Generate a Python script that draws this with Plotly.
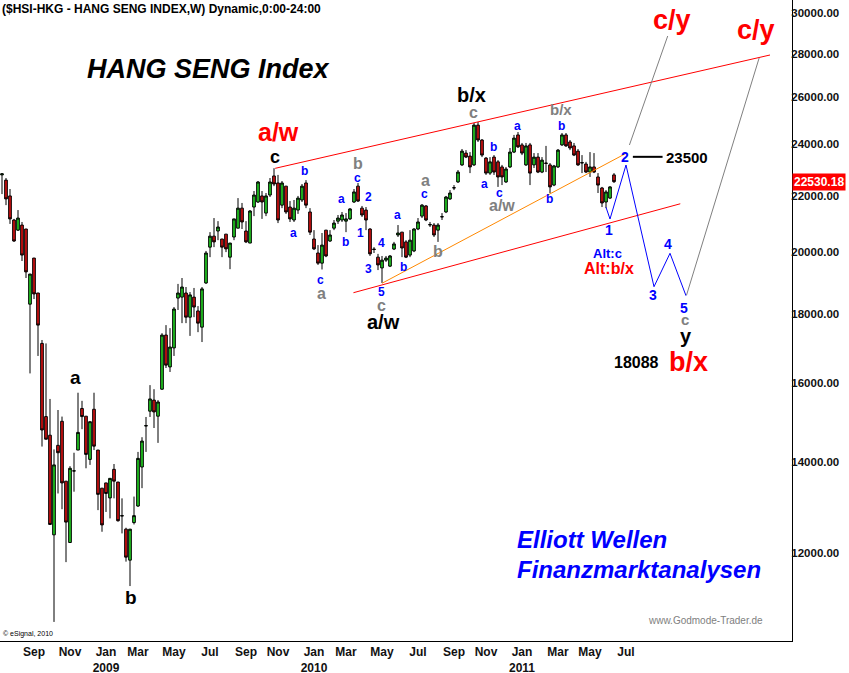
import math
import pandas as pd
import plotly.graph_objects as go

# ---------------- data (weekly candles, Hang Seng Index) ----------------
first_week = "2008-07-28"
opens = [22790, 22590, 21990, 21110, 20750, 20930, 20790, 18300, 19790, 18650,
         17120, 15120, 14650, 12370, 14400, 15000, 13550, 12210, 13785, 14285,
         15330, 15130, 14060, 15310, 14285, 13390, 13510, 13170, 13825, 13530,
         12770, 12490, 11850, 12630, 12990, 13880, 14880, 15260, 15550, 15130,
         15840, 17365, 16450, 16990, 18490, 18520, 18650, 17900, 18520, 18090,
         17600, 18970, 20160, 20540, 20720, 20440, 20610, 19820, 20510, 20820,
         21540, 20720, 20300, 21580, 21765, 21990, 21360, 22025, 22750, 22480,
         21650, 22360, 21580, 21110, 21470, 21840, 22480, 21400, 20440, 19960,
         19620, 20750, 20370, 20820, 21070, 21110, 21070, 21150, 21765, 22360,
         21540, 21470, 20790, 20095, 19820, 19460, 19720, 19520, 20095, 20580,
         20680, 20340, 19890, 20030, 20790, 21250, 21620, 20930, 20930, 20750,
         21220, 21400, 21880, 22290, 22520, 23180, 23650, 23530, 23180, 24800,
         24180, 23450, 22860, 23490, 23300, 23100, 22520, 23100, 23690, 24390,
         23980, 23180, 23980, 23180, 23490, 22900, 23255, 23180, 22400, 23100,
         23980, 24390, 24100, 23940, 23730, 23255, 23215, 22900, 23100, 22710,
         22290, 21765, 21910, 22790]
highs = [22860, 22670, 22250, 21150, 21470, 21040, 20790, 19260, 19790, 18650,
         17220, 17120, 15580, 14300, 15290, 15120, 13550, 13900, 14220, 15745,
         15530, 15130, 14990, 15745, 14285, 13390, 13510, 13615, 13950, 13530,
         13160, 12520, 12490, 13200, 14240, 14600, 15110, 15950, 15840, 15550,
         17420, 17660, 17570, 18210, 18940, 19130, 18840, 18680, 18810, 18240,
         18840, 20030, 20680, 21180, 21070, 20440, 20610, 20300, 21150, 21910,
         21730, 21070, 21470, 22175, 22555, 22175, 22100, 22670, 23050, 22790,
         22555, 22360, 21800, 21840, 21990, 22440, 22590, 21540, 20750, 20230,
         20650, 20750, 20750, 21110, 21290, 21400, 21360, 21540, 22250, 22480,
         21620, 21580, 20820, 20160, 19930, 19860, 19860, 19890, 20340, 20930,
         20680, 20400, 20750, 20820, 21180, 21690, 21650, 21040, 21000, 21000,
         21360, 21990, 22210, 22400, 22980, 23815, 23770, 23690, 24890, 24930,
         24220, 23490, 23490, 23570, 23370, 23180, 23100, 23855, 24390, 24510,
         24060, 24060, 24060, 23650, 23650, 23490, 23940, 23255, 23180, 23815,
         24470, 24470, 24180, 24060, 23815, 23570, 23300, 23690, 23650, 22860,
         22330, 22210, 22360, 22860]
lows = [22060, 21650, 20970, 20340, 20720, 19690, 19130, 16270, 18460, 16760,
        14370, 14550, 12590, 10670, 13270, 12920, 11810, 12210, 13310, 14285,
        14800, 13850, 13930, 14285, 12900, 12435, 12860, 12720, 13160, 12650,
        12400, 11820, 11340, 12590, 12970, 13390, 14240, 15110, 14830, 14460,
        15820, 16420, 16310, 16760, 18120, 17720, 17720, 17340, 17900, 17450,
        17160, 18940, 19820, 20160, 20400, 19820, 19990, 19420, 20400, 20820,
        20790, 20300, 20300, 21250, 21730, 21150, 21250, 21950, 22360, 21000,
        21540, 21330, 21040, 21040, 21330, 21765, 21540, 20580, 20060, 19560,
        19410, 19820, 20340, 20750, 20970, 21040, 20680, 21110, 21730, 21765,
        21220, 20750, 19860, 19960, 19390, 18970, 19660, 19490, 20060, 20510,
        19820, 19790, 19820, 19990, 20750, 21180, 21070, 20860, 20510, 20340,
        21110, 21360, 21840, 22210, 22480, 23140, 23450, 22860, 23140, 24100,
        23490, 22790, 22790, 22790, 22330, 22400, 22480, 23060, 23650, 23855,
        23570, 23140, 22400, 23060, 22860, 22860, 22900, 22100, 22360, 23060,
        23940, 23900, 23770, 23530, 23140, 22860, 22860, 22710, 22860, 22100,
        21580, 21540, 21880, 22480]
closes = [22830, 21880, 21150, 20370, 21180, 19890, 19330, 19260, 18620, 17660,
          14780, 14550, 12590, 13930, 14220, 13510, 12640, 13850, 13790, 14720,
          15120, 14180, 14990, 14380, 13250, 12580, 13270, 13615, 13550, 12670,
          12780, 11910, 12490, 12780, 14085, 14505, 14890, 15580, 15240, 15500,
          17365, 16500, 17015, 18150, 18650, 18840, 17900, 18590, 18210, 17720,
          18780, 19960, 20540, 20340, 20860, 20160, 20100, 20300, 21150, 21540,
          21040, 20340, 21435, 22025, 22517, 21765, 21990, 22517, 22440, 21110,
          22480, 21400, 21150, 21540, 21910, 22360, 21650, 20680, 20100, 19620,
          20230, 19860, 20580, 21000, 21180, 21290, 21150, 21510, 22140, 21800,
          21290, 21110, 19930, 20080, 19560, 19720, 19790, 19860, 20270, 20650,
          20130, 19820, 20400, 20790, 21040, 21650, 21110, 20950, 20580, 20930,
          21230, 21950, 22100, 22300, 22900, 23730, 23490, 23100, 24800, 24180,
          23570, 22860, 23300, 22900, 22710, 22710, 23020, 23690, 24260, 23900,
          23650, 23940, 22860, 23490, 22900, 23370, 23240, 22330, 23140, 23770,
          24390, 23940, 23855, 23570, 23180, 23270, 22900, 23100, 22900, 22400,
          21730, 22140, 22330, 22530.18]
last_price = 22530.18

# Elliott-wave drawing lines (date, value)
upper_channel_dates = ["2009-11-18", "2012-04-02"]
upper_channel_values = [23046, 27935]
lower_channel_dates = ["2010-04-04", "2011-10-28"]
lower_channel_values = [18659, 21700]
orange_line_dates = ["2010-05-24", "2011-07-26"]
orange_line_values = [18960, 23650]
wave_dates = ["2011-06-20", "2011-06-27", "2011-07-25", "2011-09-12", "2011-10-10", "2011-11-07"]
wave_values = [21570, 21146, 23176, 18850, 19950, 18564]
gray1_dates = ["2011-07-31", "2011-10-06"]
gray1_values = [23977, 28851]
gray2_dates = ["2011-11-08", "2012-03-14"]
gray2_values = [18586, 27793]
level_dates = ["2011-08-06", "2011-09-27"]
level_values = [23500, 23500]

# axis ticks
y_ticks = [12000, 14000, 16000, 18000, 20000, 22000, 24000, 26000, 28000, 30000]
tick_months = ["2008-09-01", "2008-11-01", "2009-01-01", "2009-03-01", "2009-05-01", "2009-07-01",
               "2009-09-01", "2009-11-01", "2010-01-01", "2010-03-01", "2010-05-01", "2010-07-01",
               "2010-09-01", "2010-11-01", "2011-01-01", "2011-03-01", "2011-05-01", "2011-07-01"]
tick_text = ["Sep", "Nov", "Jan<br>2009", "Mar", "May", "Jul",
             "Sep", "Nov", "Jan<br>2010", "Mar", "May", "Jul",
             "Sep", "Nov", "Jan<br>2011", "Mar", "May", "Jul"]

# ---------------- figure ----------------
FONT = "Liberation Sans, Arial, sans-serif"
W, H = 849, 673
ML, MR, MT, MB = 0, 57, 0, 32
PW, PH = W - ML - MR, H - MT - MB

dates = pd.date_range(first_week, periods=len(opens), freq="7D")
tickvals = [dates[dates >= pd.Timestamp(m)][0] for m in tick_months]

fig = go.Figure()
fig.add_trace(go.Candlestick(
    x=dates, open=opens, high=highs, low=lows, close=closes,
    increasing=dict(line=dict(color="black", width=1), fillcolor="#22cc22"),
    decreasing=dict(line=dict(color="black", width=1), fillcolor="#d01010"),
    whiskerwidth=0, hoverinfo="skip"))


def line(xs, ys, color, width=1):
    fig.add_trace(go.Scatter(x=xs, y=ys, mode="lines", hoverinfo="skip",
                             line=dict(color=color, width=width)))


line(upper_channel_dates, upper_channel_values, "#ff0000")
line(lower_channel_dates, lower_channel_values, "#ff0000")
line(orange_line_dates, orange_line_values, "#ff8800")
line(gray1_dates, gray1_values, "#808080")
line(gray2_dates, gray2_values, "#808080")
line(wave_dates, wave_values, "#0000ff")
line(level_dates, level_values, "#000000", 2)


def label(text, px, py, color, size, bold=True, italic=False, xanchor="center"):
    t = text
    if bold:
        t = "<b>" + t + "</b>"
    if italic:
        t = "<i>" + t + "</i>"
    fig.add_annotation(x=px / PW, y=1 - py / PH, xref="paper", yref="paper",
                       text=t, showarrow=False, xanchor=xanchor, yanchor="middle",
                       font=dict(family=FONT, size=size, color=color))


BLUE, GRAY, RED, BLACK = "#0000ff", "#808080", "#ff0000", "#000000"
blue_small = [("b", 304, 171), ("a", 293, 233), ("c", 320, 280), ("c", 357, 178), ("a", 341, 199),
              ("b", 345, 242), ("2", 368, 197), ("1", 360, 233), ("4", 381, 243), ("3", 368, 269),
              ("5", 381, 292), ("a", 397, 215), ("b", 404, 267), ("c", 424, 194), ("a", 517, 126),
              ("b", 561, 126), ("b", 493, 147), ("a", 484, 184), ("c", 500, 193), ("b", 549, 199)]
for t, px, py in blue_small:
    label(t, px, py, BLUE, 12)
gray_lab = [("a", 321, 293, 16), ("b", 358, 163, 16), ("c", 381, 305, 16), ("a", 425, 181, 16),
            ("b", 438, 252, 16), ("c", 473, 112, 16), ("b/x", 561, 110, 15), ("a/w", 502, 206, 16),
            ("c", 685, 319, 15)]
for t, px, py, s in gray_lab:
    label(t, px, py, GRAY, s)
black_lab = [("c", 275, 157, 18), ("b/x", 472, 95, 20), ("a/w", 383, 322, 20), ("y", 686, 336, 20),
             ("a", 75, 377, 19), ("b", 131, 597, 19), ("23500", 687, 158, 15), ("18088", 636, 362, 16)]
for t, px, py, s in black_lab:
    label(t, px, py, BLACK, s)
red_lab = [("a/w", 278, 132, 25), ("c/y", 672, 20, 27), ("c/y", 756, 30, 27), ("b/x", 688, 362, 27),
           ("Alt:b/x", 609, 268, 16)]
for t, px, py, s in red_lab:
    label(t, px, py, RED, s)
for t, px, py in [("1", 609, 230), ("2", 625, 157), ("3", 653, 295), ("4", 668, 244), ("5", 684, 308)]:
    label(t, px, py, BLUE, 14)
label("Alt:c", 607, 253, BLUE, 13)

label("($HSI-HKG - HANG SENG INDEX,W) Dynamic,0:00-24:00", 0, 9, BLACK, 12, xanchor="left")
label("HANG SENG Index", 208, 69, BLACK, 27, italic=True)
label("Elliott Wellen", 515, 539, BLUE, 24, italic=True, xanchor="left")
label("Finanzmarktanalysen", 515, 569, BLUE, 24, italic=True, xanchor="left")
label("www.Godmode-Trader.de", 705, 620, GRAY, 10, bold=False)
label("© eSignal, 2010", 1, 634, BLACK, 7, bold=False, xanchor="left")

# last price box on the right axis
fig.add_annotation(x=1.0, y=math.log10(last_price), xref="paper", yref="y",
                   text="<b>%.2f</b>" % last_price, showarrow=False, xanchor="left",
                   yanchor="middle", bgcolor="#ff0000", borderpad=1,
                   font=dict(family=FONT, size=12, color="white"))

y_top = 30669
y_bottom = 10330
fig.update_layout(
    width=W, height=H, margin=dict(l=ML, r=MR, t=MT, b=MB, autoexpand=False),
    paper_bgcolor="white", plot_bgcolor="white", showlegend=False, hovermode=False,
    boxgap=0.18, boxgroupgap=0.18,
    xaxis=dict(type="date", range=["2008-07-24 12:00", "2012-05-10 12:00"],
               rangeslider=dict(visible=False), showgrid=False, zeroline=False,
               showline=True, linecolor="black", linewidth=1, ticks="", automargin=False,
               tickvals=tickvals, ticktext=tick_text, ticklabelshift=12,
               ticklabelstandoff=0,
               tickfont=dict(family=FONT, size=12, color="#111111", weight="bold")),
    yaxis=dict(type="log", range=[math.log10(y_bottom), math.log10(y_top)], side="right",
               showgrid=False, zeroline=False, showline=True, linecolor="black", linewidth=1,
               ticks="", tickvals=y_ticks, ticktext=["%d.00" % v for v in y_ticks],
               ticklabelstandoff=-4, automargin=False,
               tickfont=dict(family=FONT, size=11.5, color="#111111", weight="bold")),
)

fig.write_html("out.html", config={"displayModeBar": False},
               post_script="document.body.style.margin='0px';document.body.style.overflow='hidden';")
